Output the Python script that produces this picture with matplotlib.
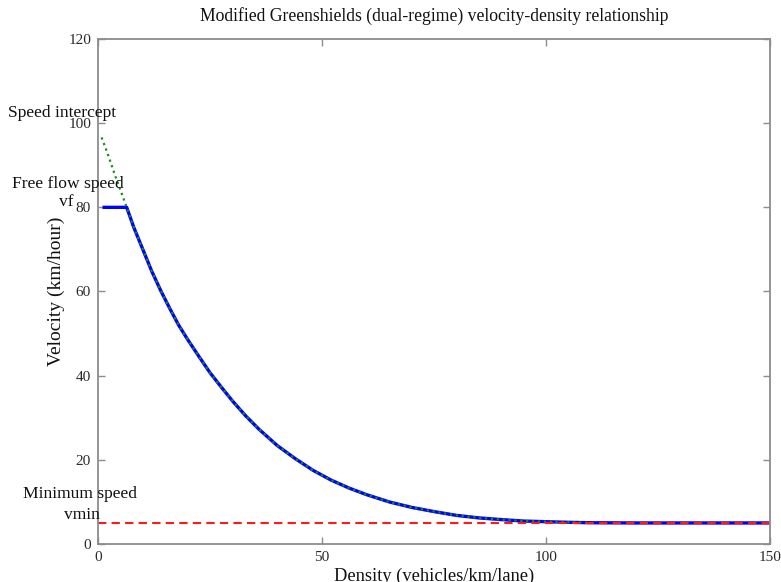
"""
Modified Greenshields (dual-regime) velocity-density plot
"""
import matplotlib
matplotlib.use("Agg")
import matplotlib.pyplot as plt

# values
density = [0.8, 2, 4, 6.4, 8, 10, 12, 14, 16, 18, 20, 22.5, 25, 27.5, 30, 33, 36,
           40, 44, 48, 52, 56, 60, 65, 70, 75, 80, 85, 90, 95, 100, 105, 110]
speed_curve = [96.6, 93.2, 87.0, 80.0, 75.2, 70.0, 64.8, 60.2, 56.0, 52.0, 48.6,
               44.6, 40.7, 37.3, 34.0, 30.4, 27.2, 23.4, 20.3, 17.5, 15.2, 13.3,
               11.7, 10.0, 8.7, 7.7, 6.8, 6.2, 5.8, 5.45, 5.3, 5.15, 5.05]

vf = 80.0
vmin = 5.0
k_break = 6.4
k_max = 150

# blue curve: free flow speed up to the breakpoint, then the model curve, then vmin
k_blue = [1.0, k_break] + density[4:] + [120, 130, 140, k_max]
v_blue = [vf, vf] + speed_curve[4:] + [5.0, 5.0, 5.0, 5.0]

plt.rcParams['font.family'] = ['Liberation Serif', 'DejaVu Serif']
txt = '#111111'

fig = plt.figure(figsize=(7.81, 5.82), dpi=100)
ax = fig.add_axes([0.1255, 0.0653, 0.8605, 0.8677])

ax.plot(k_blue, v_blue, color='#0000ff', linewidth=2.4, solid_capstyle='butt')
ax.plot(density, speed_curve, color='#1a8a1a', linestyle=':', linewidth=1.6)
ax.plot([0, k_max], [vmin, vmin], color='#ff1a1a', linestyle='--', linewidth=1.5,
        dashes=(4, 2.5))

ax.set_xlim(0, 150)
ax.set_ylim(0, 120)
ax.set_xticks([0, 50, 100, 150])
ax.set_yticks([0, 20, 40, 60, 80, 100, 120])

for s in ax.spines.values():
    s.set_color('#8c8c8c')
    s.set_linewidth(1.3)
ax.tick_params(direction='in', length=5, width=1, color='#8c8c8c',
               top=True, right=True, labelsize=11, pad=5, labelcolor='#2a2a2a')

ax.set_title('Modified Greenshields (dual-regime) velocity-density relationship',
             fontsize=12.7, color=txt, pad=13)
ax.set_xlabel('Density (vehicles/km/lane)', fontsize=13.3, color=txt, labelpad=3)
ax.set_ylabel('Velocity (km/hour)', fontsize=14, color=txt, labelpad=2)

# annotations in data coordinates, like MATLAB text()
kw = dict(fontsize=12.6, color=txt, clip_on=False)
ax.text(-20, 102.4, 'Speed intercept', ha='left', va='center', **kw)
ax.text(-19.2, 85.6, 'Free flow speed', ha='left', va='center', **kw)
ax.text(-5.5, 81.3, 'vf', ha='right', va='center', **kw)
ax.text(-16.7, 11.8, 'Minimum speed', ha='left', va='center', **kw)
ax.text(0.4, 7.0, 'vmin', ha='right', va='center', **kw)

fig.savefig('out.png', dpi=100)
